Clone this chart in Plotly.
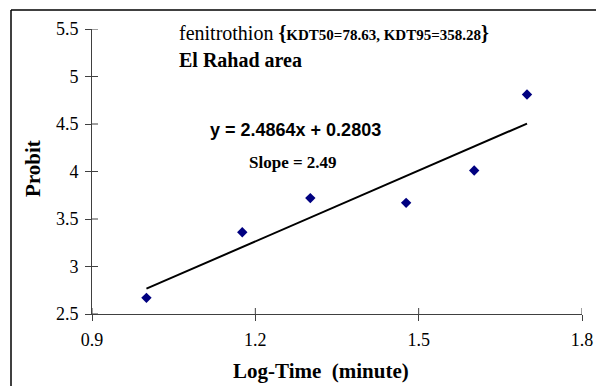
import plotly.graph_objects as go

log_time = [1.000, 1.176, 1.301, 1.477, 1.602, 1.699]
probit = [2.67, 3.36, 3.72, 3.67, 4.01, 4.81]
slope = 2.4864
intercept = 0.2803
x_ticks = [0.9, 1.2, 1.5, 1.8]
x_tick_text = ["0.9", "1.2", "1.5", "1.8"]
y_ticks = [2.5, 3, 3.5, 4, 4.5, 5, 5.5]
y_tick_text = ["2.5", "3", "3.5", "4", "4.5", "5", "5.5"]

SERIF = "Liberation Serif, Times New Roman, serif"
SANS = "Liberation Sans, Arial, sans-serif"
AXC = "#404040"

fit_x = [min(log_time), max(log_time)]
fit_y = [slope * v + intercept for v in fit_x]

fig = go.Figure()
fig.add_trace(go.Scatter(x=fit_x, y=fit_y, mode="lines",
                         line=dict(color="black", width=2), showlegend=False, hoverinfo="skip"))
fig.add_trace(go.Scatter(x=log_time, y=probit, mode="markers",
                         marker=dict(symbol="diamond", color="#000080", size=8),
                         showlegend=False))

axis_common = dict(showgrid=False, zeroline=False, showline=True, linecolor=AXC,
                   linewidth=1, tickcolor=AXC, tickwidth=1, ticklen=6, ticks="outside",
                   automargin=False,
                   tickfont=dict(family=SERIF, size=18, color="black"))

x_min, y_min = x_ticks[0], y_ticks[0]
shapes = []
# inside halves of the cross-shaped tick marks
for t in x_ticks:
    shapes.append(dict(type="line", xref="x", yref="y", x0=t, x1=t, ysizemode="pixel",
                       yanchor=y_min, y0=0, y1=6, line=dict(color=AXC, width=1)))
for t in y_ticks:
    shapes.append(dict(type="line", xref="x", yref="y", y0=t, y1=t, xsizemode="pixel",
                       xanchor=x_min, x0=0, x1=6, line=dict(color=AXC, width=1)))
# chart frame (left and top edges visible)
shapes.append(dict(type="line", xref="paper", yref="paper", x0=-0.1653, x1=-0.1653,
                   y0=-0.26, y1=1.0667, line=dict(color="black", width=1.5)))
shapes.append(dict(type="line", xref="paper", yref="paper", x0=-0.1653, x1=1.0286,
                   y0=1.0667, y1=1.0667, line=dict(color="black", width=1.5)))

fig.update_layout(
    width=596, height=386,
    margin=dict(l=92, r=14, t=29, b=72, autoexpand=False),
    paper_bgcolor="white", plot_bgcolor="white",
    xaxis=dict(range=[0.9, 1.8], tickvals=x_ticks, ticktext=x_tick_text,
               ticklabelstandoff=3, **axis_common),
    yaxis=dict(range=[2.5, 5.5], tickvals=y_ticks, ticktext=y_tick_text,
               ticklabelstandoff=3, **axis_common),
    shapes=shapes,
    annotations=[
        dict(text="fenitrothion <b>{<span style='font-size:15px'>KDT50=78.63, KDT95=358.28</span>}</b>",
             xref="paper", yref="paper", x=0.1735, y=0.986, xanchor="left", yanchor="middle",
             showarrow=False, font=dict(family=SERIF, size=20, color="black")),
        dict(text="<b>El Rahad area</b>", xref="paper", yref="paper", x=0.1735, y=0.891,
             xanchor="left", yanchor="middle", showarrow=False,
             font=dict(family=SERIF, size=20, color="black")),
        dict(text="<b>y = 2.4864x + 0.2803</b>", xref="paper", yref="paper", x=0.2367, y=0.646,
             xanchor="left", yanchor="middle", showarrow=False,
             font=dict(family=SANS, size=18, color="black")),
        dict(text="<b>Slope = 2.49</b>", xref="paper", yref="paper", x=0.316, y=0.533,
             xanchor="left", yanchor="middle", showarrow=False,
             font=dict(family=SERIF, size=17, color="black")),
        dict(text="<b>Probit</b>", xref="paper", yref="paper", x=-0.1204, y=0.509,
             xanchor="center", yanchor="middle", textangle=-90, showarrow=False,
             font=dict(family=SERIF, size=21, color="black")),
        dict(text="<b>Log-Time  (minute)</b>", xref="paper", yref="paper", x=0.467, y=-0.2,
             xanchor="center", yanchor="middle", showarrow=False,
             font=dict(family=SERIF, size=21, color="black")),
    ],
)

post = ("document.documentElement.style.overflow='hidden';"
        "document.body.style.overflow='hidden';")

fig.write_html("out.html", config={"displayModeBar": False}, post_script=post)
